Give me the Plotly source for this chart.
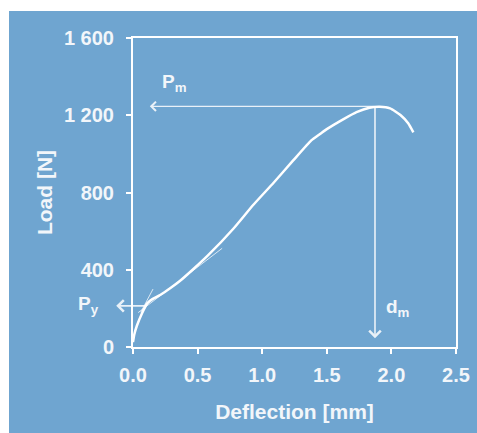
import plotly.graph_objects as go

# Load-deflection curve
deflection = [0.0, 0.01, 0.03, 0.07, 0.11, 0.15, 0.21, 0.29, 0.36, 0.47, 0.58, 0.78, 0.93,
              1.09, 1.24, 1.38, 1.45, 1.50, 1.63, 1.73, 1.83, 1.91, 1.99, 2.07, 2.13, 2.17]
load = [25, 65, 110, 175, 226, 248, 269, 305, 340, 405, 474, 615, 735,
        852, 966, 1070, 1104, 1128, 1180, 1216, 1239, 1244, 1236, 1201, 1158, 1111]

# tangent lines used to find P_y
tangent1_x = [0.06, 0.155]
tangent1_y = [180, 300]
tangent2_x = [0.04, 0.69]
tangent2_y = [178, 511]

# characteristic points
p_m = 1246
d_m = 1.873
p_y = 213

x_tickvals = [0.0, 0.5, 1.0, 1.5, 2.0, 2.5]
x_ticktext = ["0.0", "0.5", "1.0", "1.5", "2.0", "2.5"]
y_tickvals = [0, 400, 800, 1200, 1600]
y_ticktext = ["0", "400", "800", "1 200", "1 600"]

BLUE = "#6fa5d0"
WHITE = "#f2f6fa"
FONT = "Liberation Sans, Arial, sans-serif"

W, H = 477, 433
L, R, T, B = 133, 21, 38, 86
PW, PH = W - L - R, H - T - B

fig = go.Figure()
fig.add_trace(go.Scatter(x=tangent1_x, y=tangent1_y, mode="lines",
                         line=dict(color="rgba(255,255,255,0.75)", width=1), hoverinfo="skip"))
fig.add_trace(go.Scatter(x=tangent2_x, y=tangent2_y, mode="lines",
                         line=dict(color="rgba(255,255,255,0.75)", width=1), hoverinfo="skip"))
fig.add_trace(go.Scatter(x=deflection, y=load, mode="lines",
                         line=dict(color="white", width=2.5, shape="spline", smoothing=0.5)))

def arrow(x, y, ax, ay, width=1.3):
    fig.add_annotation(x=x, y=y, ax=ax, ay=ay, xref="x", yref="y", axref="x", ayref="y",
                       text="", showarrow=True, arrowhead=4, arrowsize=1.4,
                       arrowwidth=width, arrowcolor="rgba(255,255,255,0.85)", standoff=0)

arrow(0.13, p_m, d_m, p_m)
arrow(d_m, 45, d_m, p_m, width=1.6)
arrow(-0.13, p_y, 0.11, p_y, width=1.6)

lab = dict(family=FONT, size=19, color=WHITE, weight="bold")
fig.add_annotation(x=0.325, y=1367, xref="x", yref="y", text="P<sub>m</sub>",
                   showarrow=False, font=lab, xanchor="center")
fig.add_annotation(x=(88 - L) / PW, y=217, xref="paper", yref="y", text="P<sub>y</sub>",
                   showarrow=False, font=lab, xanchor="center")
fig.add_annotation(x=2.05, y=200, xref="x", yref="y", text="d<sub>m</sub>",
                   showarrow=False, font=lab, xanchor="center")

# blue panel with thin white margin at top/left
fig.add_shape(type="rect", xref="paper", yref="paper", layer="below",
              x0=(9 - L) / PW, x1=(W + 5 - L) / PW,
              y0=-(B + 5) / PH, y1=(H - B - 11) / PH,
              fillcolor=BLUE, line=dict(width=0))

axis_common = dict(showline=True, linecolor="white", linewidth=2, mirror=True,
                   ticks="outside", ticklen=5, tickwidth=2, tickcolor="white",
                   showgrid=False, zeroline=False,
                   tickfont=dict(family=FONT, size=20, color=WHITE, weight="bold"))

fig.update_xaxes(range=[0, 2.5], tickvals=x_tickvals, ticktext=x_ticktext,
                 ticklabelstandoff=4,
                 title=dict(text="Deflection [mm]", standoff=19,
                            font=dict(family=FONT, size=21, color=WHITE, weight="bold")),
                 **axis_common)
fig.update_yaxes(range=[0, 1600], tickvals=y_tickvals, ticktext=y_ticktext,
                 ticklabelstandoff=8,
                 title=dict(text="Load [N]", standoff=6,
                            font=dict(family=FONT, size=21, color=WHITE, weight="bold")),
                 **axis_common)

fig.update_layout(width=W, height=H, showlegend=False,
                  margin=dict(l=L, r=R, t=T, b=B, autoexpand=False),
                  paper_bgcolor="white", plot_bgcolor="rgba(0,0,0,0)",
                  font=dict(family=FONT))

fig.write_html("out.html", config={"displayModeBar": False},
               post_script="document.body.style.margin='0';"
                           "document.documentElement.style.overflow='hidden';")
